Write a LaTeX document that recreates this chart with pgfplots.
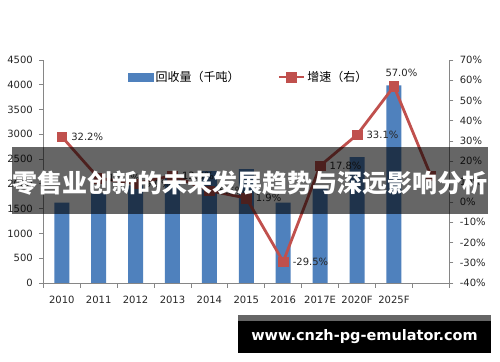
\documentclass[border=0pt]{standalone}
\usepackage{pgfplots}
\pgfplotsset{compat=1.18}
\usepackage{fontspec}
\setmainfont{DejaVu Sans}
\newfontfamily\cjk{Noto Sans CJK SC}
\definecolor{barblue}{HTML}{4F81BD}
\definecolor{linered}{HTML}{C0504D}
\definecolor{axgray}{HTML}{868686}
\definecolor{wmgray}{HTML}{666666}
\definecolor{labtext}{HTML}{262626}
\pgfplotsset{
  mylinelegend/.style={legend image code/.code={
    \draw[##1, mark=none] (0bp,0bp) -- (25bp,0bp);
    \draw[##1] plot coordinates {(12.5bp,0bp)};}},
  mybarlegend/.style={legend image code/.code={
    \fill[barblue] (0bp,-4bp) rectangle (25bp,4bp);}},
}
\begin{document}
\begin{tikzpicture}
\fill[white] (0bp,0bp) rectangle (500bp,362bp);
\begin{axis}[
  at={(43.3bp,79bp)}, anchor=south west,
  scale only axis, width=406bp, height=223bp,
  xmin=-0.5, xmax=10.5, ymin=0, ymax=4500,
  axis y line*=left, axis x line*=bottom,
  axis line style={axgray, line width=0.8bp},
  tick align=outside,
  major tick length=4bp, minor tick length=5bp,
  ytick={0,500,...,4500},
  yticklabels={0,500,1000,1500,2000,2500,3000,3500,4000,4500},
  xtick={0,...,9},
  xticklabels={2010,2011,2012,2013,2014,2015,2016,2017E,2020F,2025F},
  minor xtick={-0.5,0.5,...,10.5},
  major x tick style={draw=none},
  minor x tick style={axgray, line width=0.8bp},
  ytick style={axgray, line width=0.8bp},
  tick label style={font=\fontsize{10bp}{12bp}\selectfont, text=labtext},
  xticklabel style={yshift=-6bp},
  yticklabel style={xshift=-3bp},
  clip=false,
]
\addplot[ybar, bar width=15bp, fill=barblue, draw=none] coordinates {
  (0,1620) (1,1810) (2,1970) (3,2200) (4,2260) (5,2300) (6,1620) (7,1910) (8,2540) (9,3990)
};
\end{axis}
\begin{axis}[
  at={(43.3bp,79bp)}, anchor=south west,
  scale only axis, width=406bp, height=223bp,
  xmin=-0.5, xmax=10.5, ymin=-40, ymax=70,
  axis y line*=right, axis x line=none,
  axis line style={axgray, line width=0.8bp},
  tick align=outside,
  major tick length=4bp,
  ytick={-40,-30,...,70},
  yticklabels={-40\%,-30\%,-20\%,-10\%,0\%,10\%,20\%,30\%,40\%,50\%,60\%,70\%},
  ytick style={axgray, line width=0.8bp},
  tick label style={font=\fontsize{10bp}{12bp}\selectfont, text=labtext},
  yticklabel style={xshift=3bp},
  clip=false,
  legend columns=2,
  legend style={at={(0.2086,0.9238)}, anchor=west, draw=none, fill=none,
    inner sep=0pt, font=\cjk\fontsize{12bp}{14bp}\selectfont,
    /tikz/every even column/.append style={column sep=36bp}},
]
\addlegendimage{mybarlegend}
\addlegendentry{回收量（千吨）}
\addplot[linered, line width=2.8bp, mark=square*, mark size=4.8bp,
  mark options={fill=linered, draw=linered, line width=0.5bp},
  mylinelegend,
  nodes near coords, point meta=explicit symbolic,
  every node near coord/.append style={anchor=west, xshift=6bp, text=labtext, font=\fontsize{10bp}{12bp}\selectfont},
] coordinates {
  (0,32.2)[32.2\%] (1,11.7)[11.7\%] (2,9.0)[9.0\%] (3,13.0)[13.0\%] (4,5.5)[5.5\%]
  (5,1.9)[1.9\%] (6,-29.5)[-29.5\%] (7,17.8)[17.8\%] (8,33.1)[33.1\%]
  (9,57.0)[\hspace*{-18bp}\raisebox{27bp}{57.0\%}] (10,13.0)[]
};
\addlegendentry{增速（右）}
\end{axis}
\fill[black, opacity=0.6] (12bp,148bp) rectangle (488bp,215bp);
\node[text=white, inner sep=0pt, font=\cjk\bfseries\fontsize{25bp}{28bp}\selectfont] at (250bp,179bp) {零售业创新的未来发展趋势与深远影响分析};
\fill[black] (238bp,9bp) rectangle (491bp,47bp);
\fill[wmgray] (238bp,41bp) rectangle (491bp,47bp);
\node[text=white, inner sep=0pt, font=\bfseries\fontsize{14.5bp}{16bp}\selectfont] at (364.5bp,25bp) {www.cnzh-pg-emulator.com};
\end{tikzpicture}
\end{document}
